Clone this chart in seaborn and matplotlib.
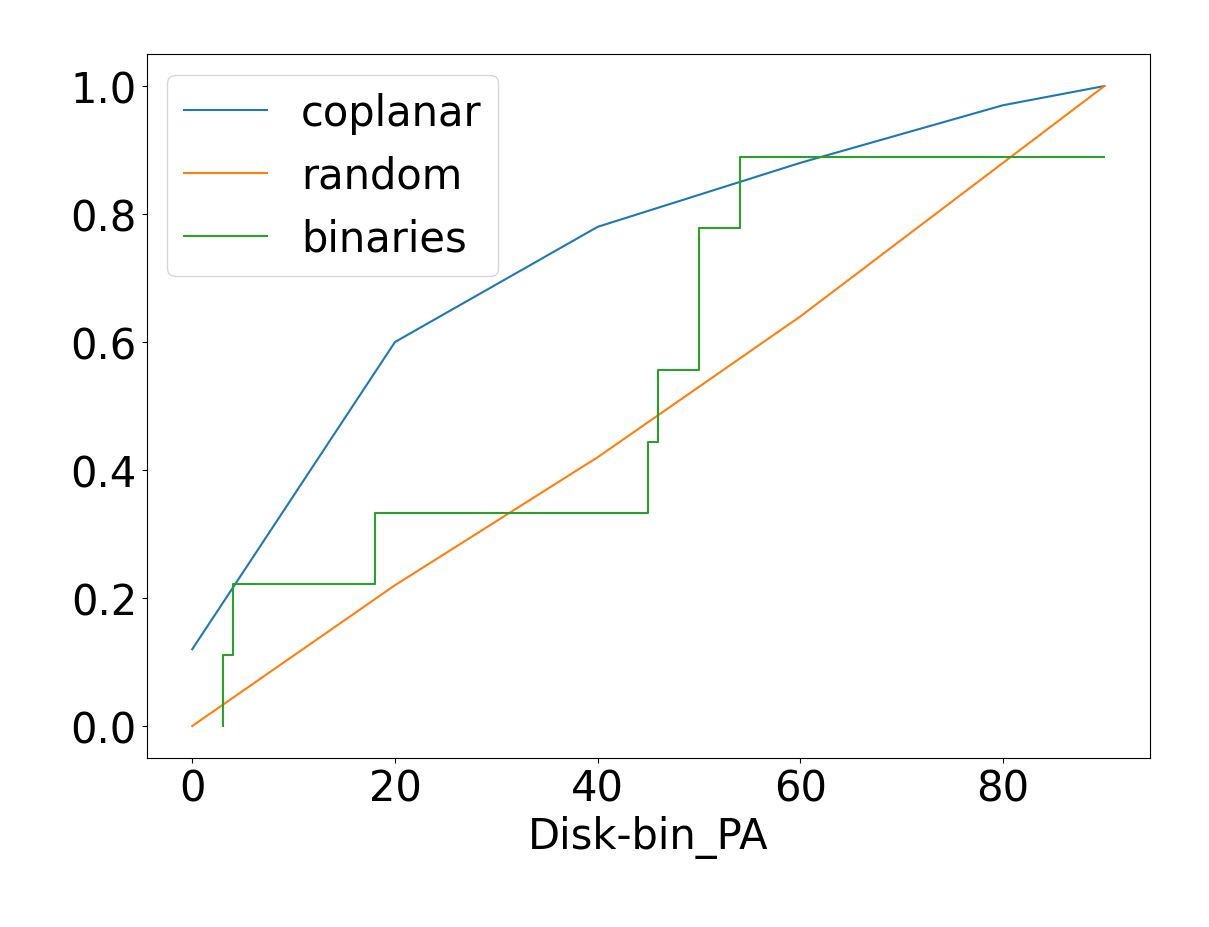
import matplotlib
matplotlib.use("Agg")
import matplotlib.pyplot as plt
import seaborn as sns

# coplanar / random model curves
pa_model = [0, 20, 40, 60, 80, 90]
coplanar = [0.12, 0.60, 0.78, 0.88, 0.97, 1.00]
random_pa = [0.00, 0.22, 0.42, 0.64, 0.88, 1.00]

# observed binaries, cumulative fraction (step)
pa_bin = [3, 4, 18, 45, 46, 50, 54, 90]
frac_bin = [0.0, 1/9, 2/9, 3/9, 4/9, 5/9, 7/9, 8/9]

plt.rcParams["font.family"] = ["DejaVu Sans"]
fig, ax = plt.subplots(figsize=(12.09, 9.28), dpi=100)
fig.subplots_adjust(left=0.1213, right=0.9512, top=0.9407, bottom=0.1821)

sns.lineplot(x=pa_model, y=coplanar, ax=ax, label="coplanar", color="#1f77b4")
sns.lineplot(x=pa_model, y=random_pa, ax=ax, label="random", color="#ff7f0e")
sns.lineplot(x=pa_bin, y=frac_bin, ax=ax, label="binaries", color="#2ca02c",
             drawstyle="steps-pre", sort=False, estimator=None)

ax.set_xlabel("Disk-bin_PA", fontsize=30)
ax.tick_params(labelsize=30)
ax.legend(loc="upper left", fontsize=30)

plt.savefig("out.png", dpi=100)
